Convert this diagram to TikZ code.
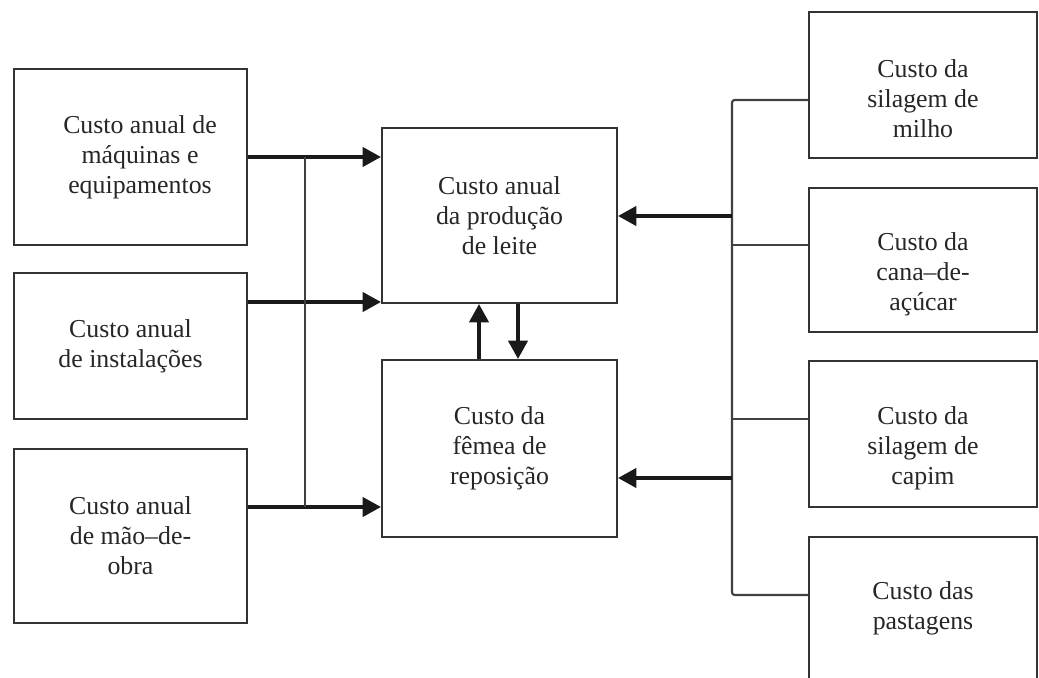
\documentclass[tikz,border=0pt]{standalone}
\usepackage{fontspec}
\setmainfont{Liberation Serif}
\usetikzlibrary{arrows.meta}
\tikzset{
	caixa/.style={draw=black!80, line width=1.2pt, inner sep=0pt, align=center, text=black!85, font=\fontsize{14.7}{17}\selectfont},
	texto/.style={align=center, inner sep=0pt, text=black!85, font=\fontsize{14.7}{17}\selectfont},
	seta/.style={draw=black!90, line width=2pt, -{Triangle[length=10.5pt,width=11pt]}},
	linha/.style={draw=black!75, line width=1.2pt},
}
\begin{document}
\begin{tikzpicture}[x=0.02cm,y=-0.02cm]
				\clip(0,0)rectangle(1039,678);
				\node[caixa, minimum width=4.66cm, minimum height=3.52cm](maq)at(130.5,157){};
				\node[texto](maqtxt)at(140,157){Custo anual de\\máquinas e\\equipamentos};
				\node[caixa, minimum width=4.66cm, minimum height=2.92cm](inst)at(130.5,346){Custo anual\\de instalações};
				\node[caixa, minimum width=4.66cm, minimum height=3.48cm](obra)at(130.5,536){Custo anual\\de mão–de-\\obra};
				\node[caixa, minimum width=4.7cm, minimum height=3.5cm](leite)at(499.5,215.5){Custo anual\\da produção\\de leite};
				\node[caixa, minimum width=4.7cm, minimum height=3.54cm](femea)at(499.5,448.5){Custo da\\fêmea de\\reposição};
				\node[caixa, minimum width=4.56cm, minimum height=2.92cm](milho)at(923,85){};
				\node[texto](milhotxt)at(923,99){Custo da\\silagem de\\milho};
				\node[caixa, minimum width=4.56cm, minimum height=2.88cm](cana)at(923,260){};
				\node[texto](canatxt)at(923,274){Custo da\\cana–de-\\açúcar};
				\node[caixa, minimum width=4.56cm, minimum height=2.92cm](capim)at(923,434){};
				\node[texto](capimtxt)at(923,448){Custo da\\silagem de\\capim};
				\node[caixa, minimum width=4.56cm, minimum height=3.06cm](pasto)at(923,613.5){};
				\node[texto](pastotxt)at(923,608.5){Custo das\\pastagens};
				\draw[seta](maq.east)--(maq.east-|leite.west);
				\draw[seta](inst.east|-0,302)--(leite.west|-0,302);
				\draw[seta](obra.east|-0,507)--(femea.west|-0,507);
				\draw[linha](305,157)--(305,507);
				\draw[seta](femea.north-|479,0)--(leite.south-|479,0);
				\draw[seta](leite.south-|518,0)--(femea.north-|518,0);
				\draw[linha, rounded corners=1.5pt](milho.west|-0,100)--(732,100)--(732,595)--(pasto.west|-0,595);
				\draw[linha](732,245)--(cana.west|-0,245);
				\draw[linha](732,419)--(capim.west|-0,419);
				\draw[seta](732,216)--(leite.east|-0,216);
				\draw[seta](732,478)--(femea.east|-0,478);
			\end{tikzpicture}
\end{document}
